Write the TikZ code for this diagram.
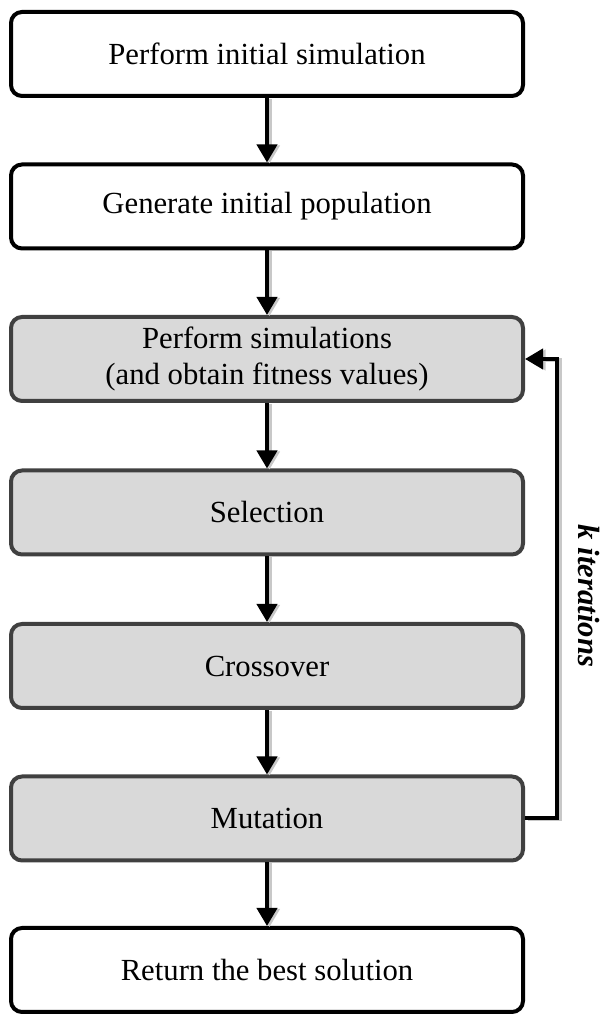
\documentclass[tikz,border=0pt]{standalone}
\usepackage{fontspec}
\setmainfont{Liberation Serif}
\usetikzlibrary{arrows.meta}
\definecolor{stepgray}{HTML}{D9D9D9}
\definecolor{stepedge}{HTML}{404040}
\definecolor{shadowgray}{HTML}{C8C8C8}
\begin{document}
\begin{tikzpicture}[x=1pt,y=1pt,
  every node/.style={font=\fontsize{30.7}{35.3}\selectfont},
  plainbox/.style={draw=black, fill=white, line width=4pt, rounded corners=11pt,
    minimum width=512pt, minimum height=84pt, inner sep=0pt, align=center},
  loopbox/.style={plainbox, draw=stepedge, fill=stepgray},
  flow/.style={line width=4pt, -{Triangle[width=20pt,length=18pt]},
    preaction={draw=shadowgray, line width=4pt, transform canvas={xshift=2.5pt,yshift=-1pt}}}
]
\useasboundingbox (0,0) rectangle (606,1014);

\node[plainbox] (init) at (267,960) {Perform initial simulation};
\node[plainbox] (gen)  at (267,807.5) {Generate initial population};
\node[loopbox]  (sim)  at (267,655) {Perform simulations\\(and obtain fitness values)};
\node[loopbox]  (sel)  at (267,501.5) {Selection};
\node[loopbox]  (cross) at (267,348) {Crossover};
\node[loopbox]  (mut)  at (267,195.5) {Mutation};
\node[plainbox] (best) at (267,44) {Return the best solution};

\draw[flow] (init) -- (gen);
\draw[flow] (gen) -- (sim);
\draw[flow] (sim) -- (sel);
\draw[flow] (sel) -- (cross);
\draw[flow] (cross) -- (mut);
\draw[flow] (mut) -- (best);

\coordinate (turn) at (557,195.5);
\draw[flow, rounded corners=0pt] (mut.east) -- (turn) |- (sim.east);

\node[rotate=-90, font=\fontsize{30.7}{35.3}\selectfont\bfseries\itshape] (iter) at (589,418) {k iterations};
\end{tikzpicture}
\end{document}
